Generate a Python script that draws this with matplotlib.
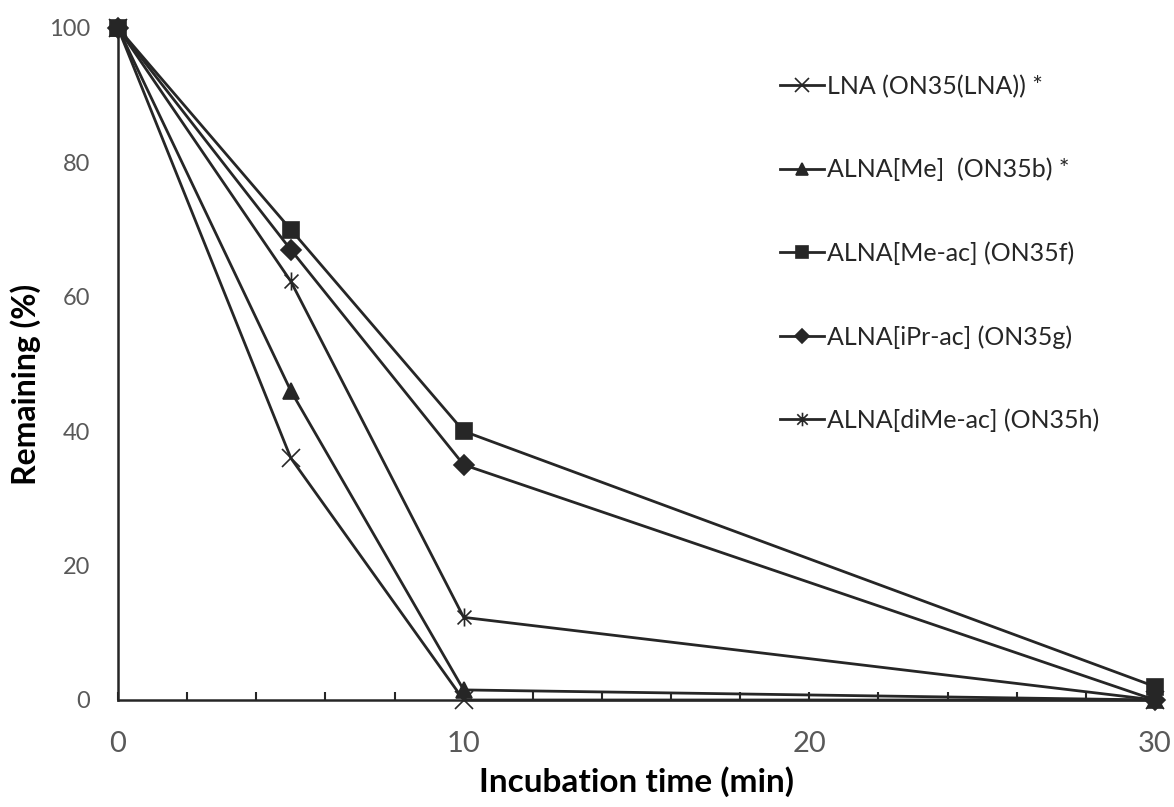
import matplotlib.pyplot as plt
from matplotlib.path import Path

# incubation times (min) and remaining (%)
time_min = [0, 5, 10, 30]
lna = [100, 36, 0, 0]
alna_me = [100, 46, 1.5, 0]
alna_me_ac = [100, 70, 40, 2]
alna_ipr_ac = [100, 67, 35, 0]
alna_dime_ac = [100, 62.3, 12.3, 0]

labels = ["LNA (ON35(LNA)) *", "ALNA[Me]  (ON35b) *", "ALNA[Me-ac] (ON35f)",
          "ALNA[iPr-ac] (ON35g)", "ALNA[diMe-ac] (ON35h)"]

# excel style star: an x with a vertical bar
star = Path([(-1, -1), (1, 1), (-1, 1), (1, -1), (0, -1.3), (0, 1.3)],
            [Path.MOVETO, Path.LINETO, Path.MOVETO, Path.LINETO, Path.MOVETO, Path.LINETO])

plt.rcParams['font.family'] = ['Lato', 'DejaVu Sans']
line_col = "#262626"

fig = plt.figure(figsize=(11.74, 8.07), dpi=100)
ax = fig.add_axes([118/1174, 1-700/807, (1155-118)/1174, (700-28)/807])

series = [(lna, 'x', 13), (alna_me, '^', 11), (alna_me_ac, 's', 12),
          (alna_ipr_ac, 'D', 10), (alna_dime_ac, star, 13)]
for (vals, mk, ms), lab in zip(series, labels):
    ax.plot(time_min, vals, color=line_col, lw=2, marker=mk, ms=ms,
            mfc=line_col, mec=line_col, mew=1.2, label=lab, clip_on=False)

ax.set_xlim(0, 30)
ax.set_ylim(0, 100)
ax.set_xticks(range(0, 31, 2))
ax.set_xticklabels([str(v) if v % 10 == 0 else "" for v in range(0, 31, 2)])
ax.set_yticks(range(0, 101, 20))
ax.tick_params(axis='x', direction='in', length=6, width=1.5, color=line_col,
               labelsize=21, labelcolor="#595959", pad=22)
ax.tick_params(axis='y', length=0, labelsize=17, labelcolor="#595959", pad=20)
for s in ['top', 'right']:
    ax.spines[s].set_visible(False)
for s in ['left', 'bottom']:
    ax.spines[s].set_color(line_col)
    ax.spines[s].set_linewidth(1.8)

ax.set_xlabel("Incubation time (min)", fontsize=24, fontweight='bold', labelpad=7)
ax.set_ylabel("Remaining (%)", fontsize=23, fontweight='bold', labelpad=6)
ax.yaxis.label.set_y((700 - 384) / 672)

leg = ax.legend(loc='upper left', bbox_to_anchor=(758/1174, 1-52/807),
                bbox_transform=fig.transFigure, frameon=False, fontsize=18,
                labelspacing=2.4, handlelength=1.75, handletextpad=0.1,
                markerscale=0.75)
for t in leg.get_texts():
    t.set_color("#262626")

plt.savefig('out.png', dpi=100)
